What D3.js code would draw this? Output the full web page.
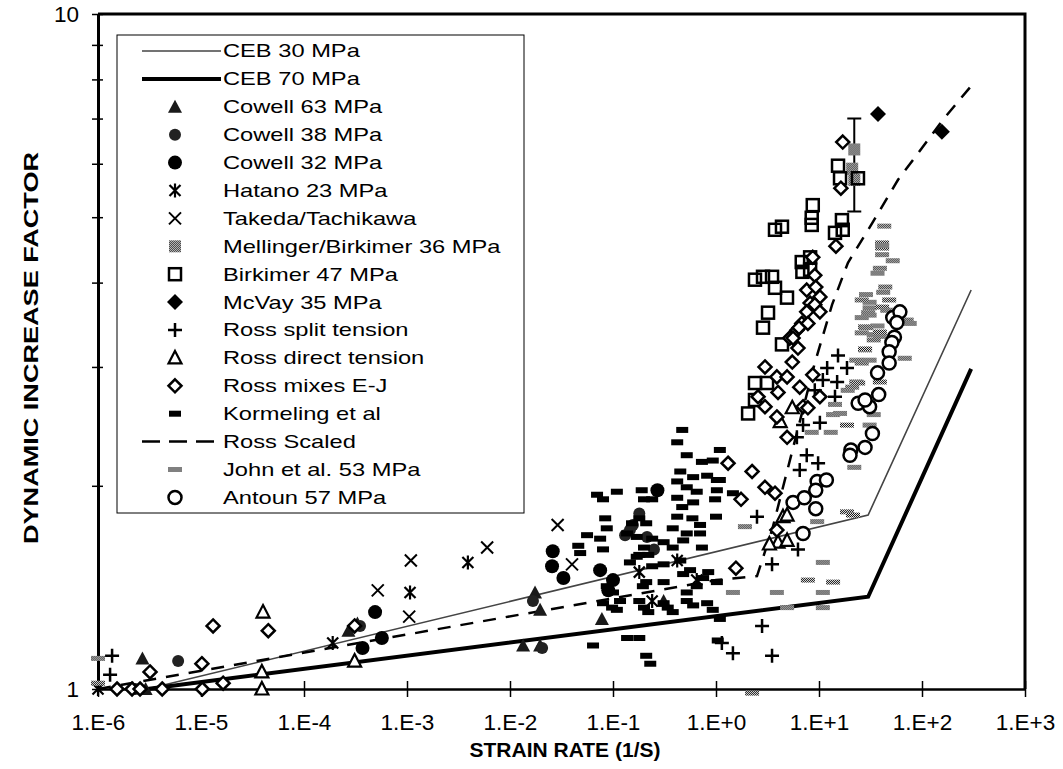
<!DOCTYPE html>
<html lang="en">
<head>
<meta charset="utf-8">
<title>Dynamic increase factor</title>
<script src="https://d3js.org/d3.v7.min.js"></script>
<style>
  body { margin: 0; background: #fff; }
  svg text { font-family: "Liberation Sans", Arial, sans-serif; fill: #000; }
</style>
</head>
<body>
<svg width="1063" height="769"></svg>
<script>
// ---- data (strain rate in 1/s, dynamic increase factor) ----
var xTicks = [1e-6, 1e-5, 1e-4, 1e-3, 1e-2, 1e-1, 1, 10, 100, 1000];
var xTickLabels = ["1.E-6", "1.E-5", "1.E-4", "1.E-3", "1.E-2", "1.E-1", "1.E+0", "1.E+1", "1.E+2", "1.E+3"];
var yTicks = [1, 2, 3, 4, 5, 6, 7, 8, 9, 10];
var yTickLabels = ["1", "", "", "", "", "", "", "", "", "10"];

var ceb30Rate = [3e-6, 30, 300];
var ceb30Dif = [1, 1.81, 3.9];
var ceb70Rate = [3e-6, 30, 300];
var ceb70Dif = [1, 1.37, 2.98];
var rossScaledRate = [1e-6, 1, 2.5, 3.5, 9.1, 13.4, 19.1, 33.4, 58.5, 167, 306];
var rossScaledDif = [1.0, 1.45, 1.47, 1.72, 3.04, 3.71, 4.28, 4.92, 5.68, 7.03, 7.85];

var cowell63Rate = [2.7e-6, 2.9e-6, 2.7e-4, 3.3e-4, 1.75e-2, 1.96e-2, 1.34e-2, 1.96e-2, 7.8e-2, 0.31];
var cowell63Dif = [1.11, 1.0, 1.22, 1.25, 1.39, 1.31, 1.16, 1.16, 1.27, 1.35];

var cowell38Rate = [6.0e-6, 2.3e-6, 3.5e-4, 1.67e-2, 2.05e-2, 0.18, 0.156, 0.146, 0.131, 0.214, 0.25];
var cowell38Dif = [1.1, 1.0, 1.24, 1.35, 1.15, 1.82, 1.75, 1.72, 1.69, 1.68, 1.61];

var cowell32Rate = [4.9e-4, 5.7e-4, 3.7e-4, 2.6e-2, 2.56e-2, 3.3e-2, 7.5e-2, 0.1, 0.09, 0.27];
var cowell32Dif = [1.3, 1.19, 1.15, 1.6, 1.52, 1.46, 1.5, 1.45, 1.4, 1.97];

var hatanoRate = [1e-6, 1.9e-4, 1.07e-3, 3.9e-3, 0.42, 0.65, 0.18, 0.24];
var hatanoDif = [1.0, 1.17, 1.39, 1.54, 1.55, 1.45, 1.49, 1.35];

var takedaRate = [1.09e-3, 5.2e-4, 1.05e-3, 6.0e-3, 2.9e-2, 4.0e-2];
var takedaDif = [1.55, 1.4, 1.28, 1.62, 1.75, 1.53];

var mellingerRate = [22, 21, 22];
var mellingerDif = [6.3, 5.9, 5.68];
var mellingerErrRate = [22];
var mellingerErrLow = [5.1];
var mellingerErrHigh = [7.0];

var birkimerRate = [15.3, 16, 23.9, 8.7, 8.5, 8.5, 3.74, 4.37, 16.7, 17, 14.3, 6.8, 8.2, 6.9, 8.2,
  2.39, 2.86, 3.5, 3.74, 4.89, 3.2, 2.86, 4.37, 2.39, 3.13, 2.05, 2.39];
var birkimerDif = [5.96, 5.71, 5.71, 5.21, 4.99, 4.87, 4.79, 4.84, 4.95, 4.79, 4.74, 4.29, 4.36, 4.15, 4.18,
  4.04, 4.08, 4.08, 3.93, 3.8, 3.61, 3.43, 3.24, 2.84, 2.84, 2.56, 2.68];

var mcvayRate = [37.4, 156];
var mcvayDif = [7.11, 6.69];

var rossSplitRate = [1.37e-6, 1.31e-6, 15.3, 18.7, 10.9, 15, 9.1, 7.0, 10.2, 6.1, 7.6, 9.8, 6.5,
  2.5, 3.5, 6.25, 2.8, 1.14, 1.46, 3.5, 12, 14.3];
var rossSplitDif = [1.12, 1.05, 3.12, 2.99, 2.87, 2.85, 2.77, 2.46, 2.48, 2.36, 2.22, 2.16, 2.11,
  1.8, 1.53, 1.61, 1.24, 1.17, 1.13, 1.12, 2.99, 2.71];

var rossDirectRate = [3.9e-5, 3.9e-5, 4.0e-5, 3.1e-4, 5.5, 4.0, 4.9, 4.47, 4.9, 4.2, 3.3];
var rossDirectDif = [1.06, 1.0, 1.3, 1.1, 2.61, 1.65, 1.66, 1.8, 1.81, 2.49, 1.64];

var rossMixRate = [1.02e-5, 3.2e-6, 1.53e-6, 2.14e-6, 2.56e-6, 4.2e-6, 1.03e-5, 1.64e-5, 1.31e-5, 4.5e-5, 3.1e-4,
  17, 16.3, 14.6, 8.7, 9.1, 7.6, 9.3, 8.2, 10.2, 9.1, 10.2, 7.6, 6.8, 6.1, 5.2,
  6.4, 7.8, 5.6, 6.25, 5.5, 2.99, 3.9, 4.9, 6.5, 8.7, 10.2, 2.56, 2.99, 4.0, 3.9, 4.9, 7.0, 7.8, 2.24, 1.31,
  1.75, 2.99, 3.74, 3.9, 1.56];
var rossMixDif = [1.09, 1.06, 1.0, 1.0, 1.0, 1.0, 1.0, 1.02, 1.24, 1.22, 1.24,
  6.46, 5.52, 4.53, 4.36, 4.1, 3.9, 3.94, 3.73, 3.81, 3.71, 3.62, 3.62, 3.48, 3.4, 3.31,
  3.43, 3.48, 3.31, 3.2, 3.05, 3.0, 2.9, 2.9, 2.8, 2.92, 2.71, 2.71, 2.62, 2.75, 2.53, 2.36, 2.62, 2.61, 2.1, 2.16,
  1.91, 1.99, 1.95, 1.72, 1.51];

var kormelingRate = [0.07, 0.109, 0.08, 0.084, 0.087, 0.056, 0.075, 0.046, 0.048, 0.08,
  0.47, 0.42, 0.52, 0.73, 0.93, 0.45, 0.6, 0.82, 1.02, 0.42,
  0.52, 0.65, 0.19, 0.2, 0.24, 0.42, 0.47, 0.6, 0.98, 0.42,
  0.59, 0.7, 0.18, 0.21, 0.153, 0.38, 0.52, 0.7, 1.0, 0.24,
  0.17, 0.137, 0.2, 0.17, 0.31, 0.38, 0.48, 0.73, 0.18, 0.22,
  0.146, 0.24, 0.31, 0.45, 0.56, 0.48, 0.75, 0.84, 1.02, 0.65,
  0.52, 0.21, 0.31, 0.087, 0.1, 0.08, 0.098, 0.109, 0.117, 0.195,
  0.18, 0.2, 0.22, 0.31, 0.34, 0.38, 0.52, 0.6, 0.82, 0.93,
  0.064, 0.137, 0.18, 0.21, 0.23, 1.04, 1.09, 1.09, 1.02, 1.46, 1.09];
var kormelingDif = [1.94, 1.96, 1.91, 1.79, 1.73, 1.69, 1.67, 1.63, 1.59, 1.61,
  2.42, 2.32, 2.22, 2.17, 2.18, 2.1, 2.06, 2.07, 2.04, 2.03,
  1.99, 1.96, 1.97, 1.91, 1.91, 1.92, 1.86, 1.89, 1.91, 1.8,
  1.79, 1.75, 1.79, 1.76, 1.76, 1.73, 1.7, 1.7, 1.8, 1.67,
  1.68, 1.7, 1.62, 1.57, 1.65, 1.62, 1.66, 1.62, 1.58, 1.58,
  1.54, 1.52, 1.53, 1.55, 1.5, 1.48, 1.46, 1.49, 1.44, 1.42,
  1.39, 1.44, 1.44, 1.42, 1.39, 1.34, 1.32, 1.31, 1.35, 1.42,
  1.35, 1.32, 1.3, 1.34, 1.32, 1.3, 1.35, 1.33, 1.34, 1.31,
  1.16, 1.19, 1.19, 1.12, 1.09, 1.18, 2.26, 2.04, 1.97, 1.95, 1.27];

var johnRate = [1e-6, 1e-6, 2.24, 1.91, 1.46, 3.9, 4.9, 7.8, 10.9, 13.7, 10.9, 10.9, 18.7, 21.4, 9.6,
  31, 31, 30, 41, 28, 37, 26, 34, 39, 28, 23, 26, 31, 23, 19, 14.3, 13.7, 16, 8.5, 13, 22, 18.7, 31, 34,
  41, 41, 41, 52, 39, 37, 44, 42, 28.6, 26, 48, 46, 31, 26, 28.6, 39, 34, 28, 71, 76, 68, 24, 21, 39,
  43, 41];
var johnDif = [1.11, 1.02, 0.986, 1.74, 1.39, 1.39, 1.32, 1.45, 1.54, 1.44, 1.39, 1.32, 1.83, 1.81, 1.77,
  3.74, 3.67, 3.61, 3.68, 3.44, 3.45, 3.37, 3.35, 3.33, 3.18, 3.07, 3.04, 3.07, 2.85, 2.77, 2.64, 2.55, 2.56, 2.4, 2.4, 2.13, 2.46, 2.46, 2.55,
  4.58, 4.5, 4.4, 4.31, 4.2, 4.13, 3.94, 3.87, 3.84, 3.77, 3.77, 3.64, 3.58, 3.55, 3.43, 3.38, 3.29, 3.19, 3.52, 3.48, 3.09, 2.84, 2.8, 2.85,
  4.85, 4.54];

var antounRate = [52, 61, 57, 54, 51, 48, 48, 37, 38, 24, 31, 33, 28, 28, 20.4, 20,
  9.6, 11.8, 9.3, 7.0, 5.6, 7.2, 9.3];
var antounDif = [3.55, 3.62, 3.49, 3.32, 3.26, 3.16, 3.04, 2.94, 2.73, 2.65, 2.62, 2.39, 2.68, 2.28, 2.26, 2.22,
  2.03, 2.04, 1.97, 1.70, 1.89, 1.92, 1.85];

// ---- layout ----
var svg = d3.select("svg");
var x = d3.scaleLog().domain([1e-6, 1e3]).range([98, 1025]);
var y = d3.scaleLog().domain([1, 10]).range([689, 14]);

var defs = svg.append("defs");
var pat = defs.append("pattern").attr("id", "stip")
    .attr("width", 2).attr("height", 2).attr("patternUnits", "userSpaceOnUse");
pat.append("rect").attr("width", 2).attr("height", 2).attr("fill", "#fff");
pat.append("rect").attr("width", 1).attr("height", 1).attr("fill", "#000");
pat.append("rect").attr("x", 1).attr("y", 1).attr("width", 1).attr("height", 1).attr("fill", "#000");

// marker shapes
function drawMark(g, type) {
    if (type === "triFill") {
        g.append("path").attr("d", "M0,-7L7,6H-7Z").attr("fill", "#1a1a1a");
    } else if (type === "triOpen") {
        g.append("path").attr("d", "M0,-7L6.5,5.5H-6.5Z").attr("fill", "#fff")
            .attr("stroke", "#000").attr("stroke-width", 2.2);
    } else if (type === "circFill") {
        g.append("circle").attr("r", 7).attr("fill", "#000");
    } else if (type === "circDark") {
        g.append("circle").attr("r", 6).attr("fill", "#222");
    } else if (type === "asterisk") {
        g.append("path").attr("d", "M-5.5,-5.5L5.5,5.5M-5.5,5.5L5.5,-5.5M0,-7V7")
            .attr("stroke", "#000").attr("stroke-width", 2.2).attr("fill", "none");
    } else if (type === "cross") {
        g.append("path").attr("d", "M-6,-6L6,6M-6,6L6,-6")
            .attr("stroke", "#000").attr("stroke-width", 2).attr("fill", "none");
    } else if (type === "sqGray") {
        g.append("rect").attr("x", -6).attr("y", -6).attr("width", 12).attr("height", 12)
            .attr("fill", "url(#stip)");
    } else if (type === "sqOpen") {
        g.append("rect").attr("x", -6).attr("y", -6).attr("width", 12).attr("height", 12)
            .attr("fill", "none").attr("stroke", "#000").attr("stroke-width", 2.5);
    } else if (type === "diaFill") {
        g.append("path").attr("d", "M0,-8L8,0L0,8L-8,0Z").attr("fill", "#000");
    } else if (type === "plus") {
        g.append("path").attr("d", "M-7,0H7M0,-7V7")
            .attr("stroke", "#000").attr("stroke-width", 2.5).attr("fill", "none");
    } else if (type === "diaOpen") {
        g.append("path").attr("d", "M0,-6.5L6.5,0L0,6.5L-6.5,0Z").attr("fill", "#fff")
            .attr("stroke", "#000").attr("stroke-width", 2.5);
    } else if (type === "dashBlack") {
        g.append("rect").attr("x", -6).attr("y", -3).attr("width", 12).attr("height", 6).attr("fill", "#000");
    } else if (type === "dashGray") {
        g.append("rect").attr("x", -7).attr("y", -2.5).attr("width", 14).attr("height", 5).attr("fill", "url(#stip)");
    } else if (type === "circOpen") {
        g.append("circle").attr("r", 6.5).attr("fill", "#fff")
            .attr("stroke", "#000").attr("stroke-width", 2.5);
    }
}

function pairs(rates, difs) {
    return rates.map(function (r, i) { return [r, difs[i]]; });
}

var lineGen = d3.line().x(function (d) { return x(d[0]); }).y(function (d) { return y(d[1]); });

var lines = [
    {name: "CEB 30 MPa", data: pairs(ceb30Rate, ceb30Dif), stroke: "#444", width: 1.6, dash: null},
    {name: "CEB 70 MPa", data: pairs(ceb70Rate, ceb70Dif), stroke: "#000", width: 4, dash: null},
    {name: "Ross Scaled", data: pairs(rossScaledRate, rossScaledDif), stroke: "#000", width: 2.5, dash: "13,10"}
];

var series = [
    {name: "Cowell 63 MPa", data: pairs(cowell63Rate, cowell63Dif), mark: "triFill"},
    {name: "Cowell 38 MPa", data: pairs(cowell38Rate, cowell38Dif), mark: "circDark"},
    {name: "Cowell 32 MPa", data: pairs(cowell32Rate, cowell32Dif), mark: "circFill"},
    {name: "Hatano 23 MPa", data: pairs(hatanoRate, hatanoDif), mark: "asterisk"},
    {name: "Takeda/Tachikawa", data: pairs(takedaRate, takedaDif), mark: "cross"},
    {name: "Mellinger/Birkimer 36 MPa", data: pairs(mellingerRate, mellingerDif), mark: "sqGray"},
    {name: "Birkimer 47 MPa", data: pairs(birkimerRate, birkimerDif), mark: "sqOpen"},
    {name: "McVay 35 MPa", data: pairs(mcvayRate, mcvayDif), mark: "diaFill"},
    {name: "Ross split tension", data: pairs(rossSplitRate, rossSplitDif), mark: "plus"},
    {name: "Ross direct tension", data: pairs(rossDirectRate, rossDirectDif), mark: "triOpen"},
    {name: "Ross mixes E-J", data: pairs(rossMixRate, rossMixDif), mark: "diaOpen"},
    {name: "Kormeling et al", data: pairs(kormelingRate, kormelingDif), mark: "dashBlack"},
    {name: "John et al. 53 MPa", data: pairs(johnRate, johnDif), mark: "dashGray"},
    {name: "Antoun 57 MPa", data: pairs(antounRate, antounDif), mark: "circOpen"}
];

// ---- axes ----
var xAxis = d3.axisBottom(x).tickValues(xTicks)
    .tickFormat(function (d, i) { return xTickLabels[i]; })
    .tickSizeInner(8).tickSizeOuter(0).tickPadding(17);
var gx = svg.append("g").attr("transform", "translate(0,689)").call(xAxis);
gx.select(".domain").attr("stroke-width", 2.5);
gx.selectAll(".tick line").attr("y1", -8).attr("stroke-width", 1.5);
gx.selectAll(".tick text").attr("font-size", 22.5).style("font-family", "Liberation Sans, Arial, sans-serif");

var yAxis = d3.axisLeft(y).tickValues(yTicks)
    .tickFormat(function (d, i) { return yTickLabels[i]; })
    .tickSizeInner(6).tickSizeOuter(0).tickPadding(13);
var gy = svg.append("g").attr("transform", "translate(98,0)").call(yAxis);
gy.select(".domain").attr("stroke-width", 3);
gy.selectAll(".tick line").attr("x2", -6).attr("x1", 5).attr("stroke-width", 1.5);
gy.selectAll(".tick text").attr("font-size", 22.5).style("font-family", "Liberation Sans, Arial, sans-serif");

// top and right frame
svg.append("path").attr("d", "M98," + y(10) + "H" + x(1e3) + "V" + y(1))
    .attr("fill", "none").attr("stroke", "#000").attr("stroke-width", 3);

// ---- lines ----
var plot = svg.append("g");
lines.forEach(function (l) {
    plot.append("path").datum(l.data).attr("d", lineGen)
        .attr("fill", "none").attr("stroke", l.stroke).attr("stroke-width", l.width)
        .attr("stroke-dasharray", l.dash);
});

// error bar on Mellinger/Birkimer
mellingerErrRate.forEach(function (r, i) {
    var ex = x(r), lo = y(mellingerErrLow[i]), hi = y(mellingerErrHigh[i]);
    plot.append("path").attr("d", "M" + ex + "," + lo + "V" + hi + "M" + (ex - 7) + "," + lo + "H" + (ex + 7) +
        "M" + (ex - 7) + "," + hi + "H" + (ex + 7))
        .attr("stroke", "#000").attr("stroke-width", 2).attr("fill", "none");
});

// ---- points ----
series.forEach(function (s) {
    plot.append("g").selectAll("g").data(s.data).enter().append("g")
        .attr("transform", function (d) { return "translate(" + x(d[0]) + "," + y(d[1]) + ")"; })
        .each(function () { drawMark(d3.select(this), s.mark); });
});

// ---- legend ----
var legendOrder = [
    {line: lines[0]}, {line: lines[1]},
    {s: series[0]}, {s: series[1]}, {s: series[2]}, {s: series[3]}, {s: series[4]}, {s: series[5]},
    {s: series[6]}, {s: series[7]}, {s: series[8]}, {s: series[9]}, {s: series[10]}, {s: series[11]},
    {line: lines[2]}, {s: series[12]}, {s: series[13]}
];
var lg = svg.append("g");
lg.append("rect").attr("x", 117).attr("y", 35).attr("width", 407).attr("height", 478)
    .attr("fill", "#fff").attr("stroke", "#000").attr("stroke-width", 1);
legendOrder.forEach(function (e, i) {
    var ly = 51 + i * 27.9;
    var name;
    if (e.line) {
        name = e.line.name;
        lg.append("line").attr("x1", 142).attr("x2", 221).attr("y1", ly).attr("y2", ly)
            .attr("stroke", e.line.stroke).attr("stroke-width", e.line.width)
            .attr("stroke-dasharray", e.line.dash ? "18,9" : null);
    } else {
        name = e.s.name;
        drawMark(lg.append("g").attr("transform", "translate(175," + ly + ")"), e.s.mark);
    }
    // the source lettering is wider than Arial, so stretch it sideways
    lg.append("text").attr("transform", "translate(223," + ly + ") scale(1.28,1)")
        .attr("dy", "0.35em").attr("font-size", 18.5).text(name);
});

// ---- titles ----
svg.append("text").attr("x", 565).attr("y", 757).attr("text-anchor", "middle")
    .attr("font-size", 21).attr("font-weight", "bold").text("STRAIN RATE (1/S)");
svg.append("text").attr("transform", "translate(38,348) rotate(-90)").attr("text-anchor", "middle")
    .attr("font-size", 21).attr("font-weight", "bold")
    .attr("textLength", 392).attr("lengthAdjust", "spacingAndGlyphs")
    .text("DYNAMIC INCREASE FACTOR");
</script>
</body>
</html>
